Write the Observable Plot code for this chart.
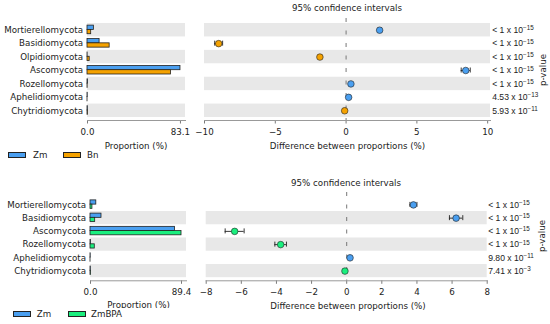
<!DOCTYPE html>
<html><head><meta charset="utf-8">
<script src="https://cdn.jsdelivr.net/npm/d3@7"></script>
<script src="https://cdn.jsdelivr.net/npm/@observablehq/plot@0.6"></script>
<style>
body{margin:0;background:#fff;}
#root{position:relative;width:550px;height:324px;overflow:hidden;font-family:"DejaVu Sans",sans-serif;font-size:8.7px;color:#222;}
.lbl{position:absolute;white-space:nowrap;transform:translate(-50%,-50%);line-height:1;}
.ltxt{position:absolute;white-space:nowrap;transform:translateY(-50%);line-height:1;}
.sw{position:absolute;box-sizing:border-box;width:18px;height:6px;border:1px solid #222;}
.pane{position:absolute;}
.rot{position:absolute;white-space:nowrap;transform:translate(-50%,-50%) rotate(-90deg);line-height:1;}
</style></head><body><div id="root"></div>
<script>
// ---------- data: top panel (Zm vs Bn) ----------
const phylaTop = ["Mortierellomycota","Basidiomycota","Olpidiomycota","Ascomycota","Rozellomycota","Aphelidiomycota","Chytridiomycota"];
const zmTop = [5.7, 10.8, 0.1, 83.1, 0.45, 0.2, 0.3];
const bnTop = [3.3, 19.8, 1.95, 74.7, 0.11, 0.02, 0.4];
const diffTop = [2.37, -9.0, -1.85, 8.45, 0.34, 0.18, -0.1];
const ciTop = [0.1, 0.28, 0.1, 0.32, 0.05, 0.03, 0.06];
const pTop = ["< 1 x 10^−15","< 1 x 10^−15","< 1 x 10^−15","< 1 x 10^−15","< 1 x 10^−15","4.53 x 10^−13","5.93 x 10^−11"];
const barTicksTop = [0, 83.1];
const ciTicksTop = [-10, -5, 0, 5, 10];

// ---------- data: bottom panel (Zm vs ZmBPA) ----------
const phylaBot = ["Mortierellomycota","Basidiomycota","Ascomycota","Rozellomycota","Aphelidiomycota","Chytridiomycota"];
const zmBot = [5.7, 10.8, 83.1, 0.45, 0.2, 0.3];
const bpaBot = [1.9, 4.6, 89.4, 4.2, 0.02, 0.4];
const diffBot = [3.8, 6.23, -6.38, -3.76, 0.19, -0.1];
const ciBot = [0.2, 0.38, 0.54, 0.33, 0.03, 0.05];
const pBot = ["< 1 x 10^−15","< 1 x 10^−15","< 1 x 10^−15","< 1 x 10^−15","9.80 x 10^−11","7.41 x 10^−3"];
const barTicksBot = [0, 89.4];
const ciTicksBot = [-8, -6, -4, -2, 0, 2, 4, 6, 8];

const BLUE = "#4a9ff0", ORANGE = "#f5a200", GREEN = "#1aef7e", GRAY = "#e8e8e8";
const root = document.getElementById("root");
const baseStyle = {fontFamily: "DejaVu Sans", fontSize: "8.7px", color: "#222", background: "transparent", overflow: "visible"};

function place(el, left, top) {
  const d = document.createElement("div");
  d.className = "pane"; d.style.left = left + "px"; d.style.top = top + "px";
  d.appendChild(el); root.appendChild(d);
}
function label(text, x, y, cls = "lbl") {
  const d = document.createElement("div");
  d.className = cls; d.textContent = text; d.style.left = x + "px"; d.style.top = y + "px";
  root.appendChild(d); return d;
}
function swatch(color, x, y) {
  const d = document.createElement("div");
  d.className = "sw"; d.style.left = x + "px"; d.style.top = y + "px"; d.style.background = color;
  root.appendChild(d);
}
// turn "mantissa^exponent" texts into real superscripts
function supify(svg) {
  d3.select(svg).selectAll("text").each(function() {
    const t = this.textContent;
    if (!t.includes("^")) return;
    const [m, e] = t.split("^");
    const s = d3.select(this);
    s.text(null);
    s.append("tspan").text(m);
    s.append("tspan").attr("dy", "-0.42em").attr("font-size", "6.3px").text(e);
  });
  return svg;
}

function grayRows(phyla) {
  // alternate shading, starting from the bottom row
  return phyla.filter((p, i) => (phyla.length - 1 - i) % 2 === 0);
}

function barChart(o) {
  const rows = o.phyla.map((p, i) => ({phylum: p, a: o.a[i], b: o.b[i]}));
  const rh = (o.yRange[1] - o.yRange[0]) / o.phyla.length;
  const bh = rh * 0.32;
  const mid = rh / 2 - 0.3;
  return Plot.plot({
    width: o.width, height: o.height,
    marginLeft: o.ml, marginRight: o.mr, marginTop: o.mt, marginBottom: o.mb,
    style: baseStyle,
    x: {domain: o.xDomain},
    y: {type: "band", domain: o.phyla, range: o.yRange, padding: 0, round: false},
    marks: [
      Plot.barX(grayRows(o.phyla), {y: d => d, x1: o.xDomain[0], x2: o.xDomain[1], fill: GRAY}),
      Plot.barX(rows, {y: "phylum", x: "a", fill: BLUE, stroke: "#222", strokeWidth: 0.8, insetTop: mid - bh, insetBottom: rh - mid}),
      Plot.barX(rows, {y: "phylum", x: "b", fill: o.colorB, stroke: "#222", strokeWidth: 0.8, insetTop: mid, insetBottom: rh - mid - bh}),
      Plot.axisY({tickSize: 0, tickPadding: 4.5, label: null}),
      Plot.axisX({ticks: o.ticks, tickFormat: d3.format(".1f"), tickSize: 3.5, tickPadding: 5, label: null, strokeOpacity: 0.6}),
      Plot.frame({anchor: "bottom", stroke: "#999"})
    ]
  });
}

function ciChart(o) {
  const rows = o.phyla.map((p, i) => ({
    phylum: p, diff: o.diff[i], lo: o.diff[i] - o.ci[i], hi: o.diff[i] + o.ci[i],
    grp: o.diff[i] > 0 ? o.groups[0] : o.groups[1], p: o.p[i]
  }));
  const rh = (o.yRange[1] - o.yRange[0]) / o.phyla.length;
  const capInset = (rh - 5) / 2;
  return supify(Plot.plot({
    width: o.width, height: o.height,
    marginLeft: o.ml, marginRight: o.mr, marginTop: o.mt, marginBottom: o.mb,
    style: baseStyle,
    x: {domain: o.xDomain},
    y: {type: "band", domain: o.phyla, range: o.yRange, padding: 0, round: false, axis: null},
    color: {domain: o.groups, range: [BLUE, o.colorB]},
    marks: [
      Plot.barX(grayRows(o.phyla), {y: d => d, x1: o.xDomain[0], x2: o.xDomain[1], fill: GRAY}),
      Plot.ruleX([0], {stroke: "#777", strokeWidth: 1, strokeDasharray: "4,8.5"}),
      Plot.ruleY(rows, {y: "phylum", x1: "lo", x2: "hi", stroke: "#222", strokeWidth: 0.9}),
      Plot.tickX(rows, {y: "phylum", x: "lo", stroke: "#222", strokeWidth: 0.9, insetTop: capInset, insetBottom: capInset}),
      Plot.tickX(rows, {y: "phylum", x: "hi", stroke: "#222", strokeWidth: 0.9, insetTop: capInset, insetBottom: capInset}),
      Plot.dot(rows, {y: "phylum", x: "diff", r: 3.3, fill: "grp", stroke: "#222", strokeWidth: 0.6}),
      Plot.text(rows, {y: "phylum", text: "p", frameAnchor: "right", textAnchor: "start", dx: o.pdx,
        fontFamily: "Liberation Sans, DejaVu Sans", fontSize: 8.6, fill: "#222"}),
      Plot.axisX({ticks: o.ticks, tickSize: 3.5, tickPadding: 5, label: null, strokeOpacity: 0.6}),
      Plot.frame({anchor: "bottom", stroke: "#999"})
    ]
  }));
}

// ---------- top panel ----------
place(barChart({phyla: phylaTop, a: zmTop, b: bnTop, colorB: ORANGE, ticks: barTicksTop,
  xDomain: [0, 87.6], width: 190, height: 150, ml: 87, mr: 5, mt: 18, mb: 30, yRange: [23, 117]}), 0, 0);
place(ciChart({phyla: phylaTop, diff: diffTop, ci: ciTop, p: pTop, groups: ["Zm", "Bn"], colorB: ORANGE,
  ticks: ciTicksTop, xDomain: [-10, 10.2], width: 360, height: 150, ml: 14, mr: 60, mt: 18, mb: 30,
  yRange: [23, 117], pdx: 1.7}), 190, 0);

label("95% confidence intervals", 347, 7.5);
label("Proportion (%)", 136, 145.5);
label("Difference between proportions (%)", 347.5, 145.5);
label("p-value", 543, 70, "rot");
swatch(BLUE, 8, 151.5); label("Zm", 33, 154.5, "ltxt");
swatch(ORANGE, 63, 151.5); label("Bn", 87, 154.5, "ltxt");

// ---------- bottom panel ----------
place(barChart({phyla: phylaBot, a: zmBot, b: bpaBot, colorB: GREEN, ticks: barTicksBot,
  xDomain: [0, 94.3], width: 190, height: 150, ml: 90, mr: 4, mt: 32, mb: 29.7, yRange: [37.8, 117.2]}), 0, 160);
place(ciChart({phyla: phylaBot, diff: diffBot, ci: ciBot, p: pBot, groups: ["Zm", "ZmBPA"], colorB: GREEN,
  ticks: ciTicksBot, xDomain: [-8, 8], width: 360, height: 150, ml: 15.7, mr: 63.3, mt: 32, mb: 29.7,
  yRange: [37.8, 117.2], pdx: 1}), 190, 160);

label("95% confidence intervals", 346, 182.5);
label("Proportion (%)", 138.5, 304.5);
label("Difference between proportions (%)", 348, 306);
label("p-value", 542, 236, "rot");
// legend box (white background partly covering the axis label, as in the reference)
const lg = document.createElement("div");
lg.style.cssText = "position:absolute;left:0;top:308px;width:180px;height:16px;background:#fff;";
root.appendChild(lg);
swatch(BLUE, 13, 310.5); label("Zm", 36.7, 313.5, "ltxt");
swatch(GREEN, 68, 310.5); label("ZmBPA", 91, 313.5, "ltxt");
</script></body></html>
